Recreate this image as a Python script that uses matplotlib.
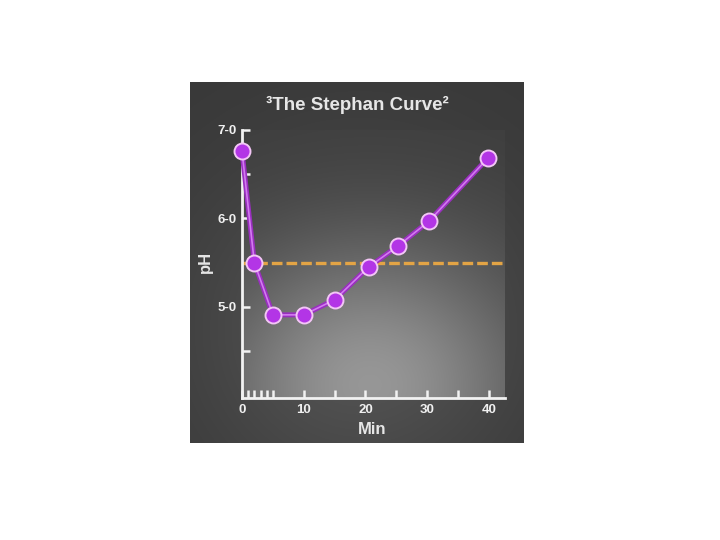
import numpy as np
import matplotlib
matplotlib.use("Agg")
import matplotlib.pyplot as plt
from matplotlib import font_manager

# Data
minutes = [0, 2, 5, 10, 15, 20.5, 25.3, 30.3, 39.8]
ph_values = [6.76, 5.50, 4.91, 4.91, 5.08, 5.45, 5.69, 5.97, 6.68]
critical_ph = 5.5
x_major_ticks = [0, 10, 20, 30, 40]
x_minor_ticks = [1, 2, 3, 4, 5, 15, 25, 35]
y_ticks = [5.0, 6.0, 7.0]
y_tick_labels = ["5-0", "6-0", "7-0"]
y_minor_ticks = [4.5, 5.5, 6.5]

names = {f.name for f in font_manager.fontManager.ttflist}
FONT = "Liberation Sans Narrow" if "Liberation Sans Narrow" in names else "Liberation Sans"
narrow = FONT == "Liberation Sans Narrow"

W, H = 720, 540
fig = plt.figure(figsize=(7.2, 5.4), dpi=100)
fig.patch.set_facecolor("white")

fx0, fx1, fy0, fy1 = 190, 524, 82, 443
px0, px1, py0, py1 = 242, 505, 130, 398

def fr(x0, y0, x1, y1):
    return [x0 / W, 1 - y1 / H, (x1 - x0) / W, (y1 - y0) / H]

bg = fig.add_axes(fr(fx0, fy0, fx1, fy1))
bg.axis("off")
xx, yy = np.meshgrid(np.arange(fx0, fx1) + 0.5, np.arange(fy0, fy1) + 0.5)
outer = 0.22 + 0.11 * np.exp(-(((xx - 360) / 170) ** 2 + ((yy - 330) / 170) ** 2))
inner = 0.24 + 0.35 * np.exp(-(((xx - 370) / 165) ** 2 + ((yy - 385) / 145) ** 2))
mask = (xx >= px0) & (xx <= px1) & (yy >= py0) & (yy <= py1)
val = np.where(mask, inner, outer)
img = np.dstack([val, val, val])
bg.imshow(img, aspect="auto", interpolation="bilinear", extent=[0, 1, 0, 1])
bg.set_xlim(0, 1)
bg.set_ylim(0, 1)

ax = fig.add_axes(fr(px0, py0, px1, py1))
ax.patch.set_alpha(0)
ax.set_xlim(0, 42.6)
ax.set_ylim(3.97, 7.0)
for s in ["top", "right"]:
    ax.spines[s].set_visible(False)
for s in ["left", "bottom"]:
    ax.spines[s].set_color("#f2f2f2")
    ax.spines[s].set_linewidth(2)

ax.set_xticks(x_major_ticks)
ax.set_xticks(x_minor_ticks, minor=True)
ax.set_yticks(y_ticks)
ax.set_yticklabels(y_tick_labels)
ax.set_yticks(y_minor_ticks, minor=True)
ax.tick_params(axis="both", which="both", direction="in", color="#f2f2f2",
               width=1.8, length=6)
ax.tick_params(axis="both", which="major", labelcolor="#f0f0f0",
               labelsize=11 if narrow else 9.5, pad=4)
for lab in ax.get_xticklabels() + ax.get_yticklabels():
    lab.set_fontweight("bold")
    lab.set_family(FONT)

ax.axhline(critical_ph, color="#e3a445", lw=2.4, dashes=(3.2, 1.2), zorder=2)

ax.plot(minutes, ph_values, color="#9a2fc0", lw=3.6, zorder=3, clip_on=False,
        solid_capstyle="round")
ax.plot(minutes, ph_values, color="#d27af0", lw=1.2, zorder=3.5, clip_on=False)
ax.plot(minutes, ph_values, ls="none", marker="o", ms=11.5,
        markerfacecolor="#b335e6", markeredgecolor="#f3c6f6", markeredgewidth=1.4,
        zorder=4, clip_on=False)

fig.text(357 / W, 1 - 105 / H, "³The Stephan Curve²", ha="center", va="center",
         fontsize=17 if narrow else 13.5, fontweight="bold", color="#e6e6e6", family=FONT)
fig.text(205 / W, 1 - 262 / H, "pH", ha="center", va="center", rotation=90,
         fontsize=14 if narrow else 12, fontweight="bold", color="#e6e6e6", family=FONT)
fig.text(372 / W, 1 - 429 / H, "Min", ha="center", va="center",
         fontsize=15 if narrow else 12, fontweight="bold", color="#e6e6e6", family=FONT)

fig.savefig("out.png", dpi=100)
